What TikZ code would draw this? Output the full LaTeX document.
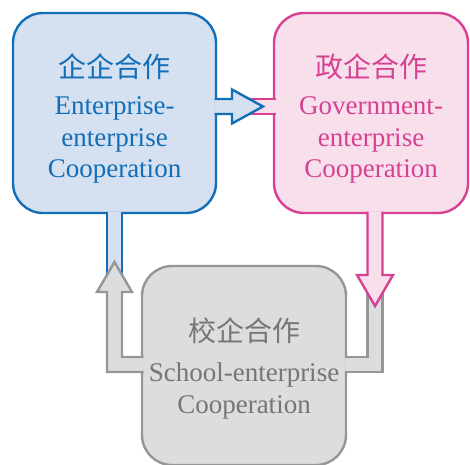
\documentclass[tikz,border=0pt]{standalone}
\usepackage{fontspec}
\setmainfont{Liberation Serif}
\newfontfamily\cjk{Noto Sans CJK SC}
\usepackage{tikz}
\usetikzlibrary{calc}

\definecolor{eeline}{RGB}{18,110,183}
\definecolor{eefill}{RGB}{213,224,241}
\definecolor{geline}{RGB}{216,64,146}
\definecolor{gefill}{RGB}{247,224,236}
\definecolor{seline}{RGB}{150,150,151}
\definecolor{sefill}{RGB}{220,221,222}
\definecolor{setext}{RGB}{118,118,119}

\begin{document}
\begin{tikzpicture}[x=1pt,y=-1pt,
  coop/.style={draw, line width=2.4pt, rounded corners=30pt, inner sep=0pt,
    outer sep=0pt, align=center, font=\fontsize{27}{31.5}\selectfont},
  link/.style={line width=2.4pt, line join=miter}]
\useasboundingbox (0,0) rectangle (470,464);
\clip (0,0) rectangle (470,464);
\node[coop, draw=eeline, fill=eefill, text=eeline, minimum width=203pt, minimum height=200pt]
  (ee) at (114.5,113) {{\cjk\fontsize{28}{32}\selectfont\rule{0pt}{35pt}企企合作}\\[6pt]Enterprise-\\enterprise\\Cooperation};
\node[coop, draw=geline, fill=gefill, text=geline, minimum width=194pt, minimum height=200pt]
  (ge) at (371,113) {{\cjk\fontsize{28}{32}\selectfont\rule{0pt}{35pt}政企合作}\\[6pt]Government-\\enterprise\\Cooperation};
\node[coop, draw=seline, fill=sefill, text=setext, minimum width=204pt, minimum height=199pt]
  (se) at (244,365.5) {{\cjk\fontsize{28}{32}\selectfont\rule{0pt}{29pt}校企合作}\\[9pt]School-enterprise\\Cooperation};
\draw[link, draw=eeline, fill=eefill] ($(ee.south)+(-7.5,-1.5)$) -- ++(0,68.5) -- ++(15,0) -- ++(0,-68.5);
\draw[link, draw=geline, fill=gefill] ($(ge.west)+(1.5,-14)$) -- ++(-35.5,0) -- ++(0,15) -- ++(35.5,0);
\draw[link, draw=seline, fill=sefill] ($(se.east)+(-1.5,-8.5)$) -- ++(23,0) -- ++(0,-72) -- ++(15,0)
  -- ++(0,87) -- ++(-38,0);
\draw[link, draw=eeline, fill=eefill] ($(ee.east)+(-1.5,-14)$) -- ++(17.5,0) -- ++(0,-9.5)
  -- ($(ge.west)+(-11,-6.5)$) -- ++(-31,17) -- ++(0,-9.5) -- ++(-17.5,0);
\draw[link, draw=geline, fill=gefill] ($(ge.south)+(-3.5,-1.5)$) -- ++(0,63.5) -- ++(-10.5,0)
  -- ($(ge.south)+(4,93)$) -- ++(18,-31) -- ++(-10.5,0) -- ++(0,-63.5);
\draw[link, draw=seline, fill=sefill] ($(se.west)+(1.5,-8.5)$) -- ++(-21.5,0) -- ++(0,-65) -- ++(10,0)
  -- ($(ee.south)+(0,49)$) -- ++(-17.5,30) -- ++(10,0) -- ++(0,80) -- ++(36.5,0);
\end{tikzpicture}
\end{document}
